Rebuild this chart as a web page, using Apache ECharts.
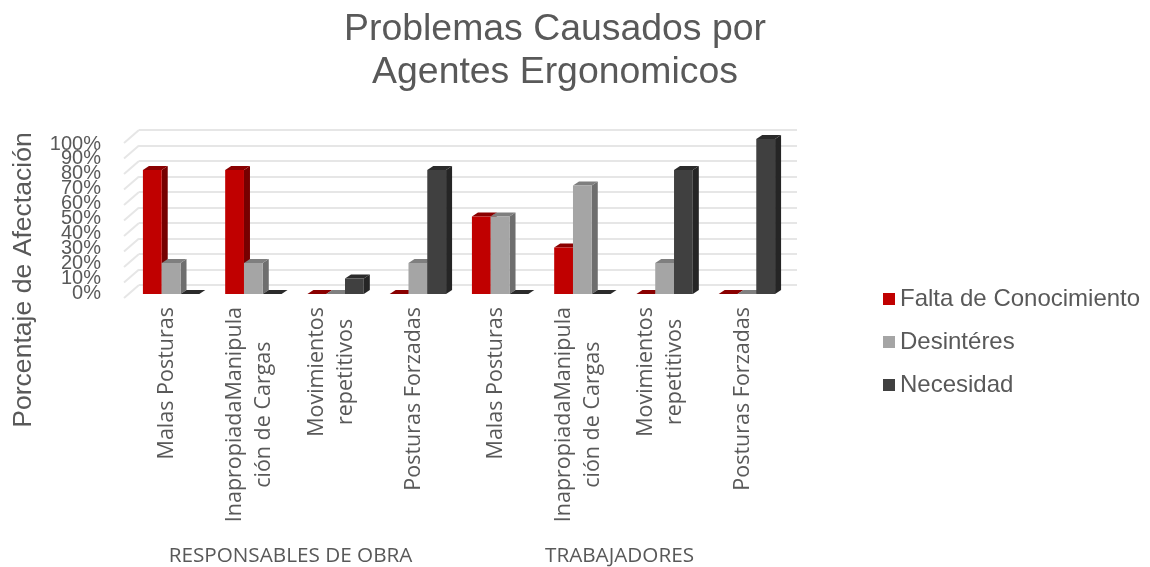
<!DOCTYPE html>
<html>
<head>
<meta charset="utf-8">
<style>
  html, body { margin: 0; padding: 0; background: #fff; }
  #main { width: 1150px; height: 567px; }
</style>
<script src="https://cdn.jsdelivr.net/npm/echarts@6/dist/echarts.min.js"></script>
</head>
<body>
<div id="main"></div>
<script>
const categories = [
  ["Malas Posturas"],
  ["InapropiadaManipula", "ción de Cargas"],
  ["Movimientos", "repetitivos"],
  ["Posturas Forzadas"],
  ["Malas Posturas"],
  ["InapropiadaManipula", "ción de Cargas"],
  ["Movimientos", "repetitivos"],
  ["Posturas Forzadas"],
];
const groups = ["RESPONSABLES DE OBRA", "TRABAJADORES"];
const falta = [80, 80, 0, 0, 50, 30, 0, 0];
const desinteres = [20, 20, 0, 20, 50, 70, 20, 0];
const necesidad = [0, 0, 10, 80, 0, 0, 80, 100];
const ticks = [0, 10, 20, 30, 40, 50, 60, 70, 80, 90, 100];

const TEXT = "#595959";
const BAR_W = 18.8;
const DEPTH_X = 6;
const DEPTH_Y = 4;

const chart = echarts.init(document.getElementById("main"));

// one 3d looking column: side and top faces, then the front
const barRenderer = (slot, front, side, top) => (params, api) => {
  const base = api.coord([api.value(0), 0]);
  const head = api.coord([api.value(0), api.value(1)]);
  const x = base[0] + (slot - 0.5) * BAR_W;
  const y0 = base[1];
  const y1 = head[1];
  const r = x + BAR_W;
  return {
    type: "group",
    children: [
      {
        type: "polygon",
        shape: { points: [[r, y0], [r + DEPTH_X, y0 - DEPTH_Y], [r + DEPTH_X, y1 - DEPTH_Y], [r, y1]] },
        style: { fill: side },
      },
      {
        type: "polygon",
        shape: { points: [[x, y1], [x + DEPTH_X, y1 - DEPTH_Y], [r + DEPTH_X, y1 - DEPTH_Y], [r, y1]] },
        style: { fill: top },
      },
      {
        type: "rect",
        shape: { x: x, y: y1, width: BAR_W, height: y0 - y1 },
        style: { fill: front },
      },
    ],
  };
};

// slanted bit of each gridline on the left side wall
const slantRenderer = (params, api) => {
  const p = api.coord([0, api.value(1)]);
  const x = p[0] - api.size([1, 0])[0] / 2;
  return {
    type: "line",
    shape: { x1: x, y1: p[1], x2: x - 15, y2: p[1] + 13 },
    style: { stroke: "#e6e6e6", lineWidth: 2 },
  };
};

const makeBar = (name, values, slot, front, side, top) => ({
  name: name,
  type: "custom",
  xAxisIndex: 0,
  yAxisIndex: 0,
  clip: false,
  itemStyle: { color: front },
  renderItem: barRenderer(slot, front, side, top),
  data: values.map((v, i) => [i, v]),
});

// the tick labels touch each other in the original and echarts would drop
// some of them, so every second one goes on its own axis
const labelAxis = (values) => ({
  gridIndex: 1,
  type: "value",
  position: "left",
  min: 0,
  max: 100,
  axisLine: { show: false },
  axisTick: { show: false },
  splitLine: { show: false },
  axisLabel: {
    customValues: values,
    formatter: "{value}%",
    fontFamily: "Liberation Sans",
    fontSize: 20,
    color: TEXT,
    margin: 25,
  },
});

chart.setOption({
  animation: false,
  title: {
    text: "Problemas Causados por\nAgentes Ergonomicos",
    left: 550,
    top: 3,
    textAlign: "center",
    textStyle: {
      fontFamily: "Liberation Sans",
      fontSize: 37.4,
      fontWeight: "normal",
      color: TEXT,
      lineHeight: 43,
    },
  },
  legend: {
    orient: "vertical",
    left: 878,
    top: 282,
    itemWidth: 12,
    itemHeight: 12,
    itemGap: 19,
    icon: "rect",
    data: ["Falta de Conocimiento", "Desintéres", "Necesidad"],
    textStyle: { fontFamily: "Liberation Sans", fontSize: 24, color: TEXT },
  },
  grid: [
    { left: 130, top: 139, width: 658, height: 155 }, // plane of the columns
    { left: 126, top: 144, width: 658, height: 154 }, // front edge, carries the labels
    { left: 139, top: 130, width: 658, height: 155 }, // back wall
  ],
  xAxis: [
    { gridIndex: 0, type: "category", show: false, data: categories.map((c) => c.join(" ")) },
    {
      gridIndex: 1,
      type: "category",
      data: categories.map((c) => c.join("\n")),
      axisLine: { show: false },
      axisTick: { show: false },
      axisLabel: {
        interval: 0,
        rotate: 90,
        margin: 14,
        formatter: (v) => v.split("\n").map((s) => "{c|" + s + "}").join("\n"),
        rich: {
          c: {
            fontFamily: "Open Sans",
            fontSize: 21.5,
            color: TEXT,
            lineHeight: 29,
            align: "center",
          },
        },
      },
    },
    {
      gridIndex: 1,
      type: "category",
      position: "bottom",
      offset: 245,
      data: groups,
      axisLine: { show: false },
      axisTick: { show: false },
      axisLabel: { interval: 0, fontFamily: "Open Sans", fontSize: 20.7, color: TEXT },
    },
    { gridIndex: 2, type: "category", show: false, data: categories.map((c) => c.join(" ")) },
  ],
  yAxis: [
    { gridIndex: 0, type: "value", min: 0, max: 100, interval: 10, show: false },
    labelAxis(ticks.filter((t, i) => i % 2 === 0)),
    labelAxis(ticks.filter((t, i) => i % 2 === 1)),
    {
      gridIndex: 2,
      type: "value",
      min: 0,
      max: 100,
      interval: 10,
      axisLine: { show: false },
      axisTick: { show: false },
      axisLabel: { show: false },
      splitLine: { show: true, lineStyle: { color: "#e6e6e6", width: 2 } },
    },
  ],
  graphic: [
    {
      type: "text",
      x: 24,
      y: 280,
      rotation: Math.PI / 2,
      style: {
        text: "Porcentaje de Afectación",
        fontFamily: "Liberation Sans",
        fontSize: 26.6,
        fill: TEXT,
        align: "center",
        verticalAlign: "middle",
      },
    },
  ],
  series: [
    {
      type: "custom",
      xAxisIndex: 3,
      yAxisIndex: 3,
      clip: false,
      silent: true,
      renderItem: slantRenderer,
      data: ticks.map((t) => [0, t]),
    },
    makeBar("Falta de Conocimiento", falta, -1, "#C00000", "#760000", "#8a0000"),
    makeBar("Desintéres", desinteres, 0, "#A5A5A5", "#6e6e6e", "#7f7f7f"),
    makeBar("Necesidad", necesidad, 1, "#404040", "#252525", "#2b2b2b"),
  ],
});
</script>
</body>
</html>
